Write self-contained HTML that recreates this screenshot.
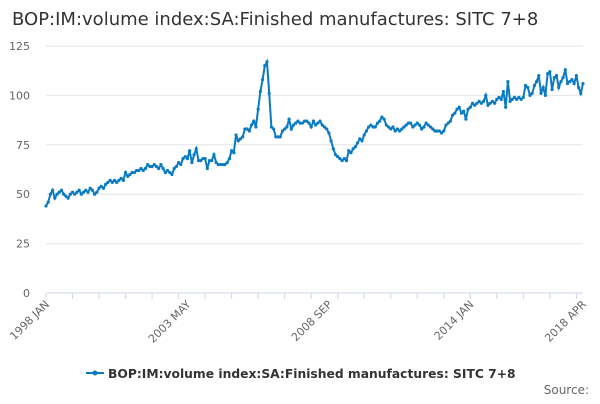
<!DOCTYPE html>
<html><head><meta charset="utf-8"><style>
body{margin:0;width:600px;height:400px;background:#fff;font-family:"DejaVu Sans",sans-serif;overflow:hidden}
</style></head><body>
<svg width="600" height="400" xmlns="http://www.w3.org/2000/svg" font-family="DejaVu Sans, sans-serif">
<text x="12" y="25" font-size="18" fill="#333">BOP:IM:volume index:SA:Finished manufactures: SITC 7+8</text>
<g id="grid"></g>
<g id="xax"></g>
<path id="line" fill="none" stroke="#0a7bc2" stroke-width="2"/>
<g id="pts" fill="#0a7bc2"></g>
<g>
<line x1="86" y1="373" x2="104" y2="373" stroke="#0a7bc2" stroke-width="2"/>
<circle cx="95" cy="373" r="2.5" fill="#0a7bc2"/>
<text x="108" y="378" font-size="12.3" font-weight="bold" fill="#333">BOP:IM:volume index:SA:Finished manufactures: SITC 7+8</text>
</g>
<text x="589" y="394" font-size="12" fill="#666" text-anchor="end">Source:</text>
</svg>
<script>
const values = [
44,46,50,52,48,50,51,52,50,49,48,50,
51,50,51,52,50,51,52,51,53,52,50,51,
53,54,53,55,56,57,56,57,56,57,58,57,
61,59,60,61,61,62,62,63,62,63,65,64,
64,65,64,63,65,63,61,62,61,60,63,64,
66,65,68,69,68,72,66,70,73,67,67,68,
68,63,67,67,70,66,65,65,65,65,66,68,
72,71,80,77,78,79,83,83,82,85,87,84,
93,102,108,115,117,101,84,83,79,79,79,82,
83,84,88,83,85,86,87,86,86,87,87,86,
84,87,85,86,87,85,84,83,81,77,73,70,
69,68,67,68,67,72,71,73,74,76,78,77,
80,82,84,85,84,84,86,87,89,88,85,84,
83,84,82,83,82,83,84,85,86,86,84,85,
86,85,83,84,86,85,84,83,82,82,82,81,
82,85,86,87,90,91,93,94,91,92,88,93,
94,96,95,96,97,96,97,100,95,96,97,96,
98,99,98,102,94,107,97,98,99,98,99,98,
99,105,104,100,101,105,107,110,101,104,100,111,
112,103,109,110,104,107,109,113,106,107,108,106,
110,104,101,106];
const yTicks = [0,25,50,75,100,125];
const xTickIdx = [0,64,128,192,243];
const xTickLabels = ["1998 JAN","2003 MAY","2008 SEP","2014 JAN","2018 APR"];
const NS="http://www.w3.org/2000/svg";
const x0=46,x1=583,yB=293,yT=46;
const xs=i=>x0+(x1-x0)*i/(values.length-1);
const ys=v=>yB-(yB-yT)*v/125;
const grid=document.getElementById('grid');
yTicks.forEach(t=>{
 if(t>0){const l=document.createElementNS(NS,'line');
 l.setAttribute('x1',x0);l.setAttribute('x2',x1);l.setAttribute('y1',ys(t));l.setAttribute('y2',ys(t));
 l.setAttribute('stroke','#e6e6e6');
 
 
 grid.appendChild(l);}
 const tx=document.createElementNS(NS,'text');
 tx.setAttribute('x',30);tx.setAttribute('y',ys(t)+4);tx.setAttribute('text-anchor','end');
 tx.setAttribute('font-size','11');tx.setAttribute('fill','#666');tx.textContent=t;
 
 
 grid.appendChild(tx);
});
const xax=document.getElementById('xax');
const ax=document.createElementNS(NS,'line');
ax.setAttribute('x1',x0);ax.setAttribute('x2',x1);ax.setAttribute('y1',yB);ax.setAttribute('y2',yB);ax.setAttribute('stroke','#ccd6eb');


xax.appendChild(ax);
for(let y=0;y<=20;y++){
 const i=y*12; if(i>=values.length) break;
 const t=document.createElementNS(NS,'line');
 t.setAttribute('x1',xs(i));t.setAttribute('x2',xs(i));t.setAttribute('y1',yB);t.setAttribute('y2',yB+6);t.setAttribute('stroke','#ccd6eb');
 
 
 xax.appendChild(t);
}
xTickIdx.forEach((i,k)=>{
 const t=document.createElementNS(NS,'text');
 const x=xs(i)+4,y=yB+12;
 t.setAttribute('x',x);t.setAttribute('y',y);t.setAttribute('text-anchor','end');
 t.setAttribute('font-size','11');t.setAttribute('fill','#666');
 t.setAttribute('transform',`rotate(-45 ${x} ${y})`);
 t.textContent=xTickLabels[k];
 
 
 xax.appendChild(t);
});
let d='';const pts=document.getElementById('pts');
values.forEach((v,i)=>{
 d+=(i?'L':'M')+xs(i).toFixed(1)+' '+ys(v).toFixed(1);
 const c=document.createElementNS(NS,'circle');
 c.setAttribute('cx',xs(i));c.setAttribute('cy',ys(v));c.setAttribute('r',1.6);
 
 
 pts.appendChild(c);
});
document.getElementById('line').setAttribute('d',d);
</script>
</body></html>
